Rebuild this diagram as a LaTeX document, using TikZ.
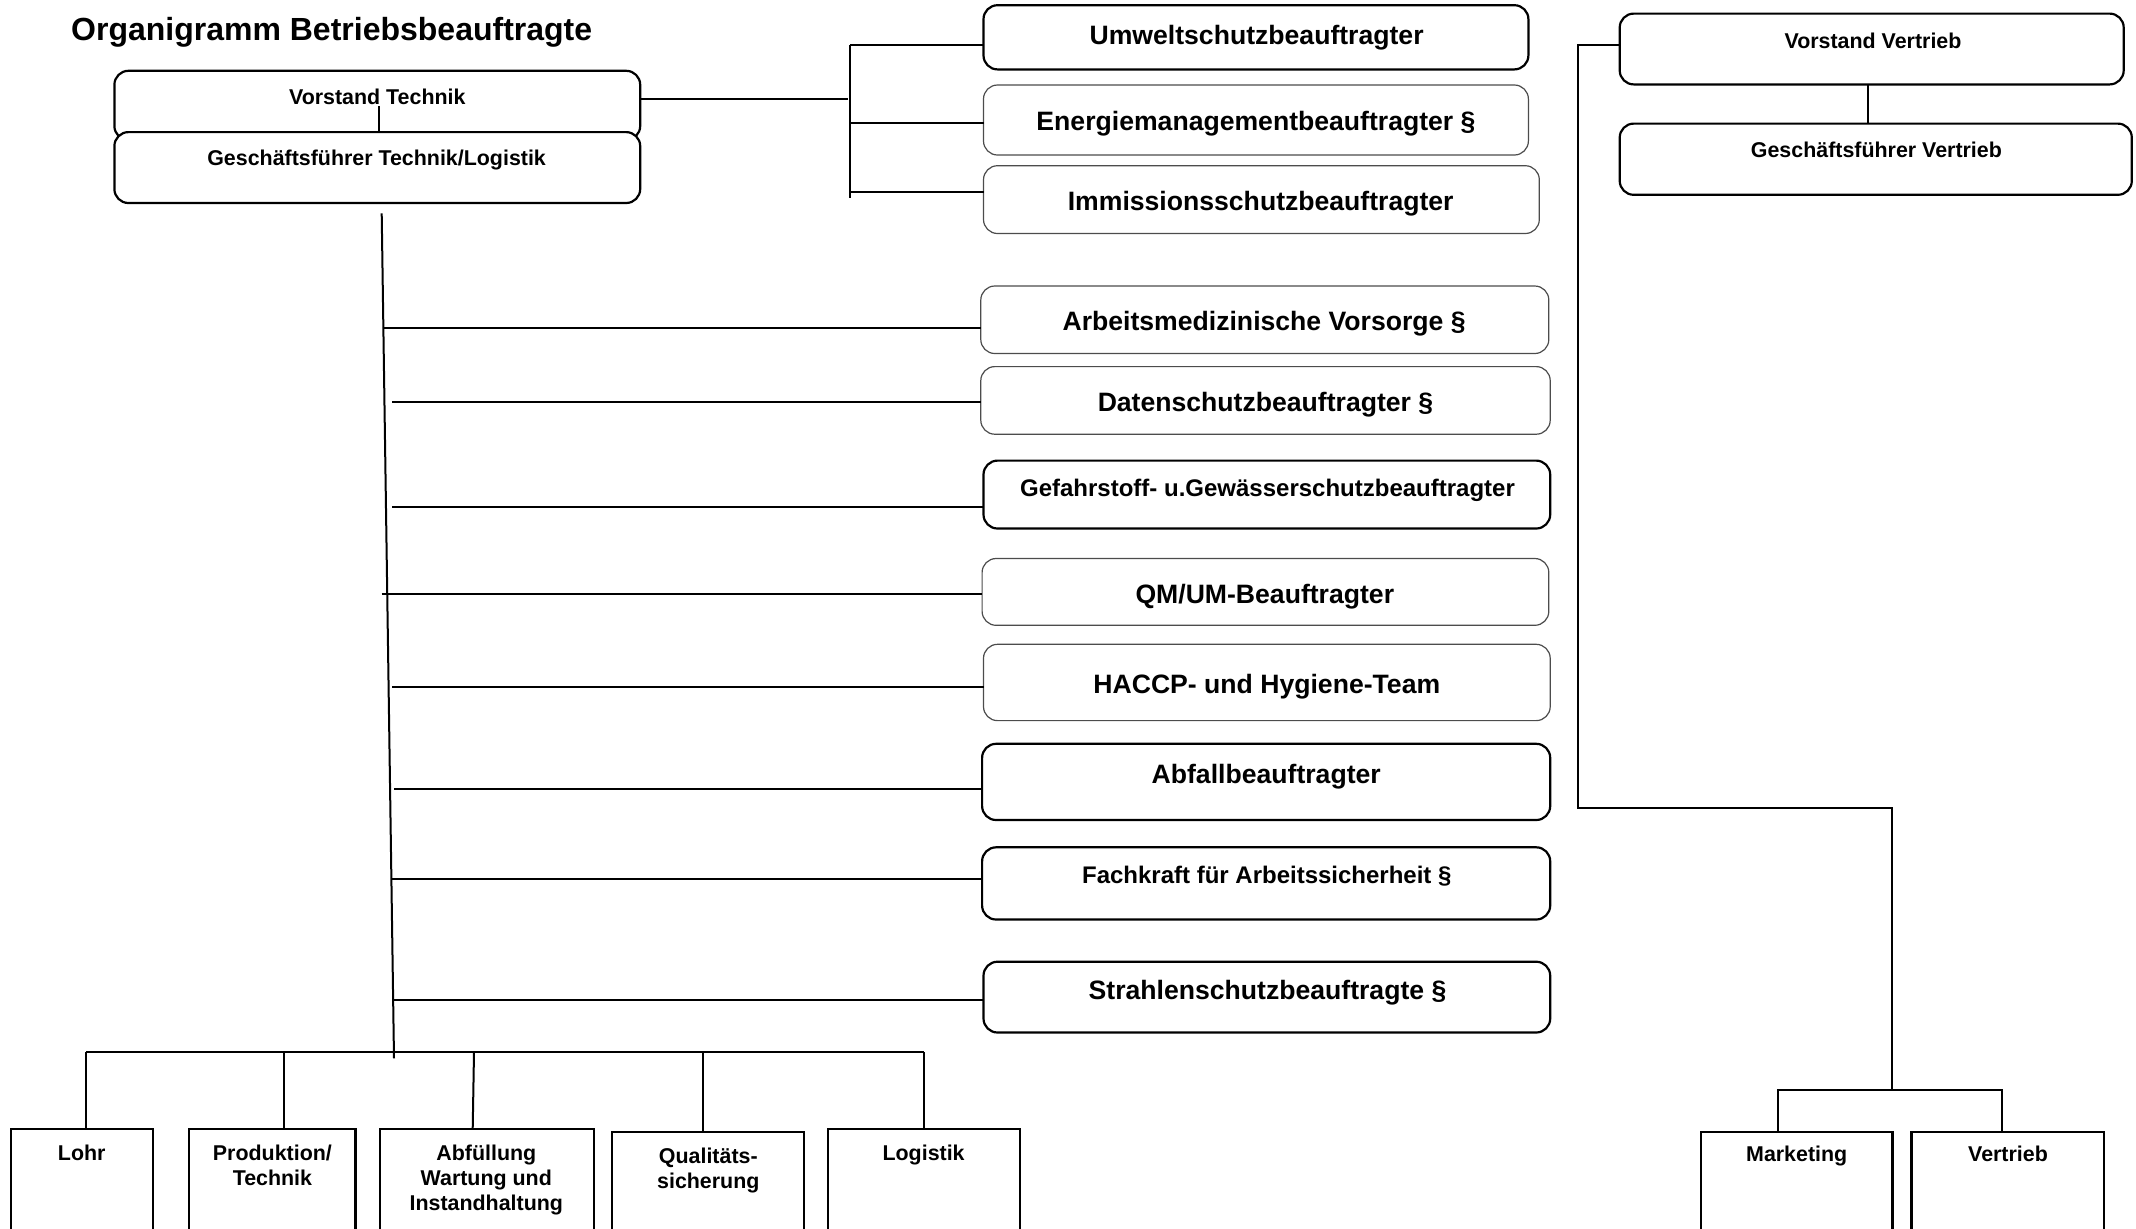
\documentclass[tikz,border=0pt]{standalone}
\usepackage{fontspec}
\setmainfont{Liberation Sans}
\usetikzlibrary{calc}
\newcommand\fTitle{\bfseries\fontsize{16}{19}\selectfont}
\newcommand\fBig{\bfseries\fontsize{13.3}{16}\selectfont}
\newcommand\fMed{\bfseries\fontsize{12}{14.4}\selectfont}
\newcommand\fSml{\bfseries\fontsize{10.7}{12.4}\selectfont}
\newcommand\obox[6]{\node[#1, minimum width={(#4-#2)*0.5pt}, minimum height={(#5-#3)*0.5pt}] (#6) at ({(#2+#4)/2},{(#3+#5)/2}) {};}
\tikzset{
  conn/.style={line width=1pt},
  rbthick/.style={draw, line width=1.1pt, rounded corners=7pt, inner sep=0pt, outer sep=0pt, fill=white},
  rbthin/.style={draw=black!70, line width=0.6pt, rounded corners=7pt, inner sep=0pt, outer sep=0pt, fill=white},
  sqbox/.style={draw, line width=1.1pt, inner sep=0pt, outer sep=0pt, fill=white},
  lbl/.style={anchor=mid, inner sep=0pt, yshift=-2pt},
  mlbl/.style={anchor=north, inner sep=0pt, align=center},
}
\begin{document}
\begin{tikzpicture}[x=0.5pt,y=-0.5pt]
\useasboundingbox (0,0) rectangle (2136,1228);
% title
\node[lbl, anchor=mid west, font=\fTitle] (title) at (70.8,31.5) {Organigramm Betriebsbeauftragte};
% top-left boxes
\obox{rbthick}{114.4}{70.8}{640.2}{140}{VT}
\obox{rbthick}{114.4}{132.1}{640.2}{203}{GF}
\node[lbl, font=\fSml] (VTt) at (377.3,95.4) {Vorstand Technik};
\node[lbl, font=\fSml] (GFt) at (376.6,156.7) {Geschäftsführer Technik/Logistik};
% upper right bracket boxes
\obox{rbthick}{983.5}{5.2}{1528.4}{69.4}{UM}
\obox{rbthin}{983.5}{85}{1528.4}{155}{EM}
\obox{rbthin}{983.5}{165.7}{1539.3}{233.5}{IM}
\node[lbl, font=\fBig] (UMt) at (1256.6,35.4) {Umweltschutzbeauftragter};
\node[lbl, font=\fBig] (EMt) at (1256,121.2) {Energiemanagementbeauftragter §};
\node[lbl, font=\fBig] (IMt) at (1260.7,201.6) {Immissionsschutzbeauftragter};
% column boxes
\obox{rbthin}{980.8}{286}{1548.8}{353.5}{AM}
\obox{rbthin}{980.8}{366.6}{1550.2}{434.2}{DS}
\obox{rbthick}{983.5}{460.6}{1550.2}{528.5}{GS}
\obox{rbthin}{982.1}{558.5}{1548.8}{625.3}{QM}
\obox{rbthin}{983.5}{644.3}{1550.2}{720.6}{HA}
\obox{rbthick}{982.1}{743.8}{1550.2}{820}{AB}
\obox{rbthick}{982.1}{847.3}{1550.2}{919.5}{FK}
\obox{rbthick}{983.5}{961.7}{1550.2}{1032.5}{ST}
\node[lbl, font=\fBig] (AMt) at (1264.1,321.5) {Arbeitsmedizinische Vorsorge §};
\node[lbl, font=\fBig] (DSt) at (1265.5,401.8) {Datenschutzbeauftragter §};
\node[lbl, font=\fMed] (GSt) at (1267.5,487.7) {Gefahrstoff- u.Gewässerschutzbeauftragter};
\node[lbl, font=\fBig] (QMt) at (1264.8,593.9) {QM/UM-Beauftragter};
\node[lbl, font=\fBig] (HAt) at (1266.8,683.8) {HACCP- und Hygiene-Team};
\node[lbl, font=\fBig] (ABt) at (1266.2,773.7) {Abfallbeauftragter};
\node[lbl, font=\fMed] (FKt) at (1266.8,874.5) {Fachkraft für Arbeitssicherheit §};
\node[lbl, font=\fBig] (STt) at (1267.5,990.3) {Strahlenschutzbeauftragte §};
% right top boxes
\obox{rbthick}{1619.7}{13.6}{2123.7}{84.4}{VV}
\obox{rbthick}{1619.7}{123.6}{2131.8}{194.8}{GFV}
\node[lbl, font=\fSml] (VVt) at (1873,39.5) {Vorstand Vertrieb};
\node[lbl, font=\fSml] (GFVt) at (1876.4,148.5) {Geschäftsführer Vertrieb};
% bottom boxes
\obox{sqbox}{10.9}{1129.3}{152.6}{1260}{LO}
\obox{sqbox}{189.3}{1129.3}{355.5}{1260}{PT}
\obox{sqbox}{380}{1129.3}{593.9}{1260}{AF}
\obox{sqbox}{612}{1132}{803.7}{1260}{QS}
\obox{sqbox}{828.2}{1129.3}{1020.3}{1260}{LG}
\obox{sqbox}{1701}{1132}{1892.4}{1260}{MK}
\obox{sqbox}{1911.5}{1132}{2104.3}{1260}{VB}
\node[lbl, font=\fSml] (LOt) at (81.7,1151.3) {Lohr};
\node[mlbl, font=\fSml] (PTt) at (272.4,1144.7) {Produktion/\\Technik};
\node[mlbl, font=\fSml] (AFt) at (486.3,1144.7) {Abfüllung\\Wartung und\\Instandhaltung};
\node[mlbl, font=\fSml] (QSt) at (708.3,1147.4) {Qualitäts-\\sicherung};
\node[lbl, font=\fSml] (LGt) at (923.6,1151.3) {Logistik};
\node[lbl, font=\fSml] (MKt) at (1796.7,1152.5) {Marketing};
\node[lbl, font=\fSml] (VBt) at (2008,1152.5) {Vertrieb};
% connectors: top left
\coordinate (vtIn) at (378.7,106);
\draw[conn] (vtIn) -- (vtIn |- GF.north);
\coordinate (brM) at (848,99);
\draw[conn] (VT.east |- brM) -- (brM);
\coordinate (br1) at (850,45);
\coordinate (br2) at (850,123.3);
\coordinate (br3) at (850,191.7);
\coordinate (brB) at (850,198.3);
\draw[conn] (br1) -- (brB);
\draw[conn] (br1) -- (UM.west |- br1);
\draw[conn] (br2) -- (EM.west |- br2);
\draw[conn] (br3) -- (IM.west |- br3);
% trunk
\coordinate (trTop) at (381.7,213.3);
\coordinate (trBot) at (394,1058.3);
\draw[conn] (trTop) -- (trBot);
\coordinate (bAM) at (382.7,328.3);
\coordinate (bDS) at (392.3,401.8);
\coordinate (bGS) at (392.3,506.5);
\coordinate (bQM) at (381.7,594);
\coordinate (bHA) at (392.3,686.6);
\coordinate (bAB) at (394,788.5);
\coordinate (bFK) at (392,879);
\coordinate (bST) at (392.7,1000);
\draw[conn] (bAM) -- (AM.west |- bAM);
\draw[conn] (bDS) -- (DS.west |- bDS);
\draw[conn] (bGS) -- (GS.west |- bGS);
\draw[conn] (bQM) -- (QM.west |- bQM);
\draw[conn] (bHA) -- (HA.west |- bHA);
\draw[conn] (bAB) -- (AB.west |- bAB);
\draw[conn] (bFK) -- (FK.west |- bFK);
\draw[conn] (bST) -- (ST.west |- bST);
% bottom bar
\coordinate (d1) at (85.8,1052.3);
\coordinate (d2) at (284,1052.3);
\coordinate (d3) at (474,1052.3);
\coordinate (d3b) at (472.7,1129.3);
\coordinate (d4) at (702.9,1052.3);
\coordinate (d5) at (923.6,1052.3);
\draw[conn] (d1) -- (d5);
\draw[conn] (d1) -- (LO.north -| d1);
\draw[conn] (d2) -- (PT.north -| d2);
\draw[conn] (d3) -- (d3b);
\draw[conn] (d4) -- (QS.north -| d4);
\draw[conn] (d5) -- (LG.north -| d5);
% right side
\coordinate (vvg) at (1867.6,84.4);
\draw[conn] (vvg |- VV.south) -- (vvg |- GFV.north);
\coordinate (vvL) at (1578.3,45);
\coordinate (vvC) at (1578.3,808.3);
\coordinate (vvD) at (1892.3,808.3);
\coordinate (vvE) at (1892.3,1090);
\draw[conn] (VV.west |- vvL) -- (vvL) -- (vvC) -- (vvD) -- (vvE);
\coordinate (rb1) at (1777.7,1090);
\coordinate (rb2) at (2002.3,1090);
\draw[conn] (MK.north -| rb1) -- (rb1) -- (rb2) -- (VB.north -| rb2);
\end{tikzpicture}
\end{document}
